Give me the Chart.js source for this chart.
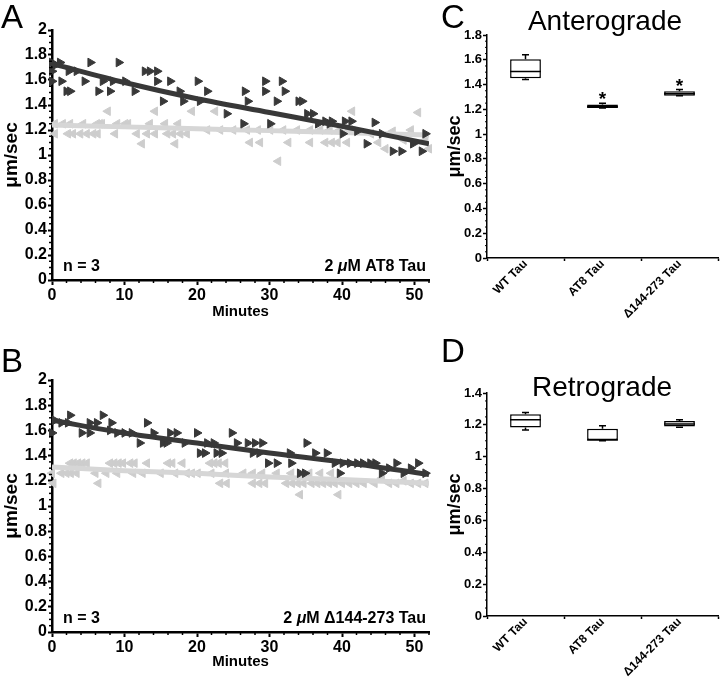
<!DOCTYPE html>
<html>
<head>
<meta charset="utf-8">
<script src="https://cdn.jsdelivr.net/npm/chart.js@4.4.1/dist/chart.umd.min.js"></script>
<style>
  body { margin: 0; background: #fff; width: 720px; height: 678px; position: relative; overflow: hidden;
         font-family: "Liberation Sans", Arial, sans-serif; }
  canvas { position: absolute; }
  .letter { position: absolute; font-size: 33px; line-height: 1; }
  .head { position: absolute; font-size: 28px; line-height: 1; text-align: center; width: 200px; }
</style>
</head>
<body>
<canvas id="chartA" width="440" height="330" style="left:0;top:0"></canvas>
<canvas id="chartB" width="440" height="348" style="left:0;top:330px"></canvas>
<canvas id="chartC" width="320" height="330" style="left:400px;top:0"></canvas>
<canvas id="chartD" width="320" height="348" style="left:400px;top:330px"></canvas>
<div class="letter" style="left:1px;top:0">A</div>
<div class="letter" style="left:1px;top:344px">B</div>
<div class="letter" style="left:441px;top:0">C</div>
<div class="letter" style="left:441px;top:334px">D</div>
<div class="head" style="left:505px;top:7px">Anterograde</div>
<div class="head" style="left:502px;top:373px">Retrograde</div>
<script>
// --- panel A: 2 uM AT8 Tau, [minute, um/sec]
const aAnterograde = [
  [0,1.74],[0,1.67],[0,1.59],[0.5,1.72],[1.1,1.74],[1.3,1.59],[2.0,1.51],[2.5,1.51],[2.3,1.67],[3.4,1.67],
  [4.5,1.59],[5.3,1.74],[6.4,1.51],[7.0,1.59],[8.0,1.51],[8.4,1.59],[9.2,1.74],[10.1,1.59],[11.4,1.51],
  [12.8,1.67],[13.5,1.67],[14.5,1.67],[14.5,1.59],[15.3,1.43],[16.3,1.59],[17.6,1.51],[18.1,1.43],[20.1,1.59],
  [20.4,1.43],[21.4,1.51],[24.1,1.33],[26.4,1.25],[26.6,1.51],[27.0,1.43],[29.4,1.59],[29.4,1.51],[30.1,1.25],
  [31.0,1.43],[31.7,1.59],[32.1,1.51],[34.0,1.43],[34.5,1.43],[35.2,1.33],[36.0,1.33],[36.7,1.25],[37.7,1.27],
  [38.3,1.25],[38.6,1.27],[40.1,1.17],[40.4,1.27],[41.3,1.27],[42.1,1.19],[43.4,1.09],[44.5,1.26],[45.5,1.17],
  [47,1.03],[48.2,1.03],[49.8,1.09],[51,1.03],[51.5,1.17]
];
const aRetrograde = [
  [0.4,1.25],[1.5,1.25],[2.5,1.25],[4.3,1.25],[6.2,1.25],[6.6,1.25],[6.9,1.25],[9.0,1.25],[10.1,1.25],[10.5,1.25],
  [13.5,1.25],[15.6,1.25],[17.4,1.25],[0.4,1.17],[2.2,1.17],[2.9,1.17],[3.9,1.17],[4.8,1.17],[5.7,1.17],[6.3,1.17],
  [8.7,1.17],[11.7,1.17],[13.1,1.17],[14.2,1.17],[15.9,1.17],[16.7,1.17],[17.7,1.17],[18.6,1.17],
  [7.7,1.35],[14.2,1.35],[19.3,1.35],[22.5,1.35],[41.4,1.35],[12.4,1.09],[17.0,1.09],
  [21.4,1.20],[23.2,1.20],[25.0,1.20],[26.9,1.20],[28.4,1.20],[30.1,1.20],[31.9,1.20],[33.8,1.20],[35.6,1.20],
  [37.0,1.20],[38.3,1.20],[39.7,1.20],[41.1,1.20],[27.3,1.10],[28.7,1.10],[32.6,1.10],[35.6,1.10],[37.7,1.10],
  [38.6,1.10],[39.4,1.10],[40.7,1.10],[31.2,0.95],
  [44,1.17],[45,1.10],[46,1.05],[47,1.19],[48.5,1.12],[49.5,1.20],[50.5,1.34],[51.5,1.12],[52,1.05]
];
const fitMinutes = [0, 10, 20, 30, 40, 52];
const aFitAnterograde = [1.73, 1.58, 1.45, 1.34, 1.23, 1.09];
const aFitRetrograde = [1.24, 1.225, 1.21, 1.195, 1.18, 1.16];

// --- panel B: 2 uM d144-273 Tau
const bAnterograde = [
  [0,1.58],[0.4,1.68],[1.3,1.66],[2.2,1.66],[2.5,1.72],[4.1,1.58],[5.2,1.58],[5.2,1.66],[6.2,1.66],[7,1.72],
  [8,1.60],[8.2,1.66],[9,1.58],[10,1.58],[11,1.58],[12.1,1.50],[13.1,1.66],[14,1.58],[15.3,1.50],[15.8,1.50],
  [16.3,1.58],[17.2,1.58],[18.3,1.50],[20,1.58],[20.4,1.42],[21.1,1.42],[21.4,1.50],[22.3,1.50],[22.7,1.42],
  [23.4,1.42],[24.8,1.58],[25.5,1.50],[27.0,1.50],[27.7,1.42],[28.0,1.50],[28.6,1.42],[29.0,1.50],[29.8,1.34],
  [31.0,1.34],[32.8,1.42],[33.0,1.34],[34.2,1.26],[34.9,1.26],[35.1,1.50],[36.3,1.42],[37.9,1.42],[39.0,1.34],
  [39.7,1.26],[40.1,1.34],[41.1,1.34],[42.1,1.34],[42.9,1.34],[43.9,1.34],[44.6,1.34],[45.5,1.26],[46.5,1.30],
  [47.5,1.34],[48.5,1.26],[49.5,1.30],[50.5,1.34],[51.5,1.26]
];
const bRetrograde = [
  [2.5,1.34],[3.0,1.34],[3.6,1.34],[4.2,1.34],[4.8,1.34],[8.0,1.34],[8.6,1.34],[9.2,1.34],[9.8,1.34],[10.8,1.34],
  [11.4,1.34],[13.1,1.34],[16.0,1.34],[16.6,1.34],[18.0,1.34],[21.8,1.34],[22.4,1.34],[23.0,1.34],[23.9,1.34],
  [0,1.26],[1.3,1.26],[2.0,1.26],[2.6,1.26],[3.4,1.26],[6.0,1.26],[7.5,1.26],[9.0,1.26],[11.2,1.26],[12.5,1.26],
  [15.0,1.26],[17.0,1.26],[18.6,1.26],[19.3,1.26],[20.1,1.26],[22.0,1.26],[24.0,1.26],[26.4,1.26],[27.7,1.26],
  [29.0,1.26],[31.0,1.26],[33.0,1.26],[35.5,1.26],[37.0,1.26],[38.5,1.26],
  [0.2,1.18],[6.4,1.18],[23.2,1.18],[24.1,1.18],[27.7,1.18],[28.6,1.18],[29.4,1.18],[32.3,1.18],[33.1,1.18],
  [33.9,1.18],[34.7,1.18],[35.8,1.18],[36.6,1.18],[37.4,1.18],[38.2,1.18],[39.0,1.18],[40.0,1.18],[41.0,1.18],
  [42.0,1.18],[43.0,1.18],[44.5,1.18],[45.5,1.22],[46.5,1.18],[47.5,1.18],[48.5,1.20],[49.5,1.18],[50.5,1.18],
  [51.5,1.18],[34.2,1.09],[39.5,1.09]
];
const bFitAnterograde = [1.68, 1.58, 1.50, 1.42, 1.35, 1.25];
const bFitRetrograde = [1.31, 1.28, 1.26, 1.23, 1.21, 1.18];

// --- panels C, D: box plots
const groups = ['WT Tau', 'AT8 Tau', 'Δ144-273 Tau'];
const antLow = [1.44, 1.21, 1.31];
const antQ1 = [1.45, 1.21, 1.31];
const antMedian = [1.505, 1.22, 1.325];
const antQ3 = [1.605, 1.24, 1.345];
const antHigh = [1.64, 1.25, 1.36];
const antSig = ['', '*', '*'];
const retLow = [1.168, 1.10, 1.185];
const retQ1 = [1.183, 1.105, 1.19];
const retMedian = [1.232, 1.105, 1.206];
const retQ3 = [1.267, 1.175, 1.225];
const retHigh = [1.278, 1.194, 1.232];
const retSig = ['', '', ''];

const DARK = '#383838';
const LIGHT = '#cdcdcd';
const FONT = "'Liberation Sans', Arial, sans-serif";
Chart.defaults.font.family = FONT;
Chart.defaults.color = '#000';

const minorTicks = {
  id: 'minorTicks',
  afterDraw(chart, _args, opts) {
    const { ctx } = chart;
    ctx.save();
    ctx.strokeStyle = '#000';
    ctx.lineWidth = opts.width;
    Object.keys(opts.step).forEach(id => {
      const s = chart.scales[id];
      const step = opts.step[id];
      const major = opts.major[id];
      const n = Math.round((s.max - s.min) / step);
      for (let k = 0; k <= n; k++) {
        const v = s.min + k * step;
        const r = v / major;
        if (Math.abs(r - Math.round(r)) < 1e-6) continue;
        const p = s.getPixelForValue(v);
        ctx.beginPath();
        if (s.isHorizontal()) { ctx.moveTo(p, s.top); ctx.lineTo(p, s.top + opts.len); }
        else { ctx.moveTo(s.right, p); ctx.lineTo(s.right - opts.len, p); }
        ctx.stroke();
      }
    });
    ctx.restore();
  }
};

// text pieces: [string, italic]
function setFont(ctx, it) {
  ctx.font = (it ? 'italic ' : '') + 'bold 16px ' + FONT;
}
function drawRich(ctx, parts, x, y, align) {
  let w = 0;
  parts.forEach(([t, it]) => { setFont(ctx, it); w += ctx.measureText(t).width; });
  let cx = align === 'right' ? x - w : x;
  parts.forEach(([t, it]) => {
    setFont(ctx, it);
    ctx.fillText(t, cx, y);
    cx += ctx.measureText(t).width;
  });
}

const cornerText = {
  id: 'cornerText',
  afterDraw(chart, _args, opts) {
    const { ctx, chartArea: a } = chart;
    ctx.save();
    ctx.fillStyle = '#000';
    ctx.textBaseline = 'middle';
    ctx.textAlign = 'left';
    drawRich(ctx, opts.left, a.left + 11, a.bottom - 13, 'left');
    drawRich(ctx, opts.right, a.right - 3, a.bottom - 13, 'right');
    ctx.restore();
  }
};

const boxParts = {
  id: 'boxParts',
  afterDatasetsDraw(chart, _args, opts) {
    const { ctx, scales: { x, y } } = chart;
    const bars = chart.getDatasetMeta(0).data;
    ctx.save();
    ctx.strokeStyle = '#000';
    ctx.lineWidth = 1.5;
    opts.low.forEach((lo, i) => {
      const cx = x.getPixelForValue(i);
      const half = bars[i].width / 2;
      const yl = y.getPixelForValue(lo), yh = y.getPixelForValue(opts.high[i]);
      const y1 = y.getPixelForValue(opts.q1[i]), y3 = y.getPixelForValue(opts.q3[i]);
      const ym = y.getPixelForValue(opts.median[i]);
      ctx.beginPath();
      ctx.moveTo(cx, y3); ctx.lineTo(cx, yh);
      ctx.moveTo(cx - 3.5, yh); ctx.lineTo(cx + 3.5, yh);
      ctx.moveTo(cx, y1); ctx.lineTo(cx, yl);
      ctx.moveTo(cx - 3.5, yl); ctx.lineTo(cx + 3.5, yl);
      ctx.moveTo(cx - half, ym); ctx.lineTo(cx + half, ym);
      ctx.stroke();
      if (opts.sig[i]) {
        ctx.fillStyle = '#000';
        ctx.font = 'bold 19px ' + FONT;
        ctx.textAlign = 'center';
        ctx.textBaseline = 'alphabetic';
        ctx.fillText(opts.sig[i], cx, yh + 2);
      }
    });
    ctx.restore();
  }
};

const tickLabel = v => String(+(+v).toFixed(2));

function timeChart(id, ant, ret, fitAnt, fitRet, note, top, xBox, titlePad) {
  new Chart(document.getElementById(id), {
    type: 'scatter',
    data: {
      datasets: [
        { data: fitMinutes.map((m, i) => ({ x: m, y: fitAnt[i] })), showLine: true, pointRadius: 0,
          borderColor: DARK, borderWidth: 5, cubicInterpolationMode: 'monotone' },
        { data: ant.map(([x, y]) => ({ x, y })), pointStyle: 'triangle', rotation: 90, pointRadius: 5,
          backgroundColor: DARK, borderColor: DARK, borderWidth: 1, clip: 10 },
        { data: fitMinutes.map((m, i) => ({ x: m, y: fitRet[i] })), showLine: true, pointRadius: 0,
          borderColor: '#d6d6d6', borderWidth: 5, cubicInterpolationMode: 'monotone' },
        { data: ret.map(([x, y]) => ({ x, y })), pointStyle: 'triangle', rotation: -90, pointRadius: 5,
          backgroundColor: LIGHT, borderColor: LIGHT, borderWidth: 1, clip: 10 }
      ]
    },
    options: {
      responsive: false, animation: false, events: [],
      layout: { padding: { top: top, right: 11, left: 0, bottom: 0 } },
      plugins: {
        legend: { display: false }, tooltip: { enabled: false },
        minorTicks: { step: { x: 2, y: 0.05 }, major: { x: 10, y: 0.2 }, len: 3, width: 1.5 },
        cornerText: { left: [['n = 3', false]], right: note }
      },
      scales: {
        x: {
          type: 'linear', min: 0, max: 52,
          afterFit: s => { s.height = xBox; },
          ticks: { stepSize: 10, includeBounds: false, maxRotation: 0, padding: 1, font: { size: 16, weight: 'bold' } },
          grid: { drawOnChartArea: false, tickLength: 5, tickWidth: 2, tickColor: '#000' },
          border: { color: '#000', width: 2.5 },
          title: { display: true, text: 'Minutes', font: { size: 15, weight: 'bold' }, padding: { top: 0, bottom: titlePad } }
        },
        y: {
          min: 0, max: 2,
          afterFit: s => { s.width = 52; },
          ticks: { stepSize: 0.2, padding: 1, callback: tickLabel, font: { size: 16, weight: 'bold' } },
          grid: { drawOnChartArea: false, tickLength: 4, tickWidth: 2, tickColor: '#000' },
          border: { color: '#000', width: 2.5 },
          title: { display: true, text: 'μm/sec', font: { size: 19, weight: 'bold' }, padding: 0 }
        }
      }
    },
    plugins: [minorTicks, cornerText]
  });
}

function boxChart(id, low, q1, median, q3, high, sig, yMax, top, xBox) {
  new Chart(document.getElementById(id), {
    type: 'bar',
    data: {
      labels: groups,
      datasets: [{
        data: groups.map((_, i) => [q1[i], q3[i]]),
        backgroundColor: '#fff', borderColor: '#000', borderWidth: 1.5, borderSkipped: false,
        barPercentage: 0.4, categoryPercentage: 1
      }]
    },
    options: {
      responsive: false, animation: false, events: [],
      layout: { padding: { top: top, right: 2, left: 44, bottom: 0 } },
      plugins: {
        legend: { display: false }, tooltip: { enabled: false },
        minorTicks: { step: { y: 0.05 }, major: { y: 0.2 }, len: 2, width: 1 },
        boxParts: { low, q1, median, q3, high, sig }
      },
      scales: {
        x: {
          afterFit: s => { s.height = xBox; },
          ticks: { minRotation: 45, maxRotation: 45, padding: -4, font: { size: 12, weight: 'bold' } },
          grid: { offset: true, drawOnChartArea: false, tickLength: 3, tickWidth: 1.5, tickColor: '#000' },
          border: { color: '#000', width: 1.5 }
        },
        y: {
          min: 0, max: yMax,
          afterFit: s => { s.width = 43; },
          ticks: { stepSize: 0.2, padding: 1, callback: tickLabel, font: { size: 13, weight: 'bold' } },
          grid: { drawOnChartArea: false, tickLength: 4, tickWidth: 1.5, tickColor: '#000' },
          border: { color: '#000', width: 1.5 },
          title: { display: true, text: 'μm/sec', font: { size: 18, weight: 'bold' }, padding: 0 }
        }
      }
    },
    plugins: [minorTicks, boxParts]
  });
}

timeChart('chartA', aAnterograde, aRetrograde, aFitAnterograde, aFitRetrograde,
  [['2 ', false], ['μ', true], ['M AT8 Tau', false]], 30, 50, 9);
timeChart('chartB', bAnterograde, bRetrograde, bFitAnterograde, bFitRetrograde,
  [['2 ', false], ['μ', true], ['M Δ144-273 Tau', false]], 50, 46, 7);
boxChart('chartC', antLow, antQ1, antMedian, antQ3, antHigh, antSig, 1.8, 35, 72);
boxChart('chartD', retLow, retQ1, retMedian, retQ3, retHigh, retSig, 1.4, 63, 62);
</script>
</body>
</html>
